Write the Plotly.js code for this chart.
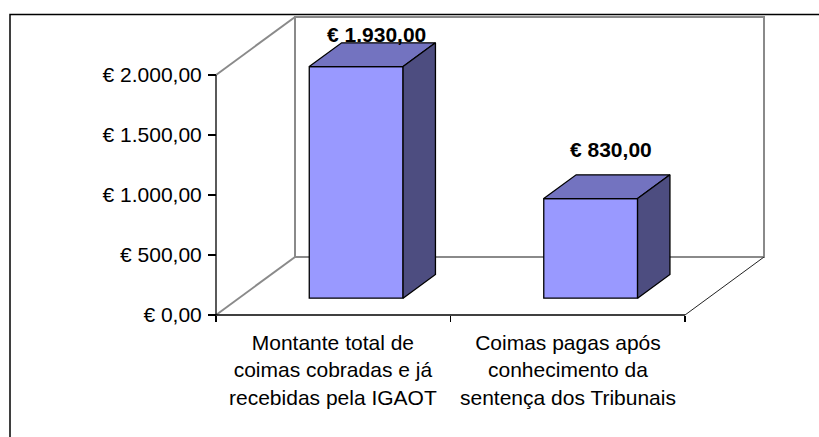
<!DOCTYPE html>
<html>
<head>
<meta charset="utf-8">
<script src="https://cdn.plot.ly/plotly-3.0.1.min.js"></script>
<style>html,body{margin:0;padding:0;background:#fff;}#chart{width:819px;height:437px;}</style>
</head>
<body>
<div id="chart"></div>
<script>
// ---- data ----
const categories = ['Montante total de<br>coimas cobradas e já<br>recebidas pela IGAOT',
                    'Coimas pagas após<br>conhecimento da<br>sentença dos Tribunais'];
const values = [1930, 830];
const valueLabels = ['€ 1.930,00', '€ 830,00'];
const tickVals = [0, 500, 1000, 1500, 2000];
const tickText = ['€ 0,00', '€ 500,00', '€ 1.000,00', '€ 1.500,00', '€ 2.000,00'];

// ---- 3D styling geometry (in axis units) ----
const PXX = 234.5, PXY = 0.12;          // pixels per unit
const DX = 79 / PXX, DY = 58 / PXY;      // depth of the floor
const GAP = 0.29, BD = 0.41, BW = 0.4;   // bar placement inside depth
const nCat = categories.length;
const wallTop = tickVals[tickVals.length - 1];
const FONT = 'Liberation Sans, Arial, sans-serif';
const GREY = '#8a8a8a';

const shapes = [];
function seg(x0, y0, x1, y1, c, w) {
  shapes.push({type: 'line', xref: 'x', yref: 'y', x0: x0, y0: y0, x1: x1, y1: y1,
    layer: 'below', line: {color: c, width: w}});
}
// back wall
shapes.push({type: 'rect', xref: 'x', yref: 'y', x0: DX, x1: nCat + DX, y0: DY, y1: wallTop + DY,
  layer: 'below', fillcolor: '#ffffff', line: {color: GREY, width: 2}});
// left wall edges
seg(0, wallTop, DX, wallTop + DY, GREY, 2);
seg(0, 0, DX, DY, GREY, 2);
// floor edges
seg(nCat, 0, nCat + DX, DY, '#222', 1);
seg(0, 0, nCat, 0, '#000', 1.3);
// value axis line
seg(0, 0, 0, wallTop, '#000', 1.3);

const traces = [];
function poly(xs, ys, fill) {
  traces.push({type: 'scatter', mode: 'lines', x: xs, y: ys, fill: 'toself', fillcolor: fill,
    line: {color: '#000', width: 1.3}, hoverinfo: 'skip', showlegend: false});
}
// bars (front faces)
const barX = values.map((v, i) => i + 0.5 + GAP * DX);
const barBase = GAP * DY;
traces.push({type: 'bar', x: barX, y: values, base: values.map(() => barBase), width: BW,
  marker: {color: '#9999FF', line: {color: '#000', width: 1.3}}, hoverinfo: 'skip', showlegend: false});
// top & side faces
const bdx = BD * DX, bdy = BD * DY;
values.forEach((v, i) => {
  const xl = barX[i] - BW / 2, xr = barX[i] + BW / 2, top = barBase + v;
  poly([xl, xl + bdx, xr + bdx, xr, xl], [top, top + bdy, top + bdy, top, top], '#7373C0');
  poly([xr, xr + bdx, xr + bdx, xr, xr], [barBase, barBase + bdy, top + bdy, top, barBase], '#4D4D80');
});

const annotations = [];
values.forEach((v, i) => {
  annotations.push({xref: 'x', yref: 'y', x: barX[i] + 0.085, y: Math.min(barBase + v + 405, 2340),
    text: '<b>' + valueLabels[i] + '</b>', showarrow: false,
    font: {family: FONT, size: 21, color: '#000'}, xanchor: 'center', yanchor: 'middle'});
  annotations.push({xref: 'x', yref: 'y', x: i + 0.5, y: 0, yanchor: 'top', yshift: -14,
    text: categories[i], showarrow: false, font: {family: FONT, size: 21, color: '#000'}});
});

const W = 556, H = 306;
shapes.push({type: 'path', xref: 'paper', yref: 'paper',
  path: 'M ' + ((10 - 212) / W) + ' -0.6 L ' + ((10 - 212) / W) + ' ' + ((318 - 14.5) / H) +
        ' L 1.2 ' + ((318 - 14.5) / H),
  line: {color: '#000', width: 1.5}});

const layout = {
  width: 819, height: 437,
  margin: {l: 212, r: 51, t: 12, b: 119, pad: 0},
  paper_bgcolor: '#fff', plot_bgcolor: 'rgba(0,0,0,0)',
  showlegend: false, hovermode: false, barmode: 'overlay',
  xaxis: {range: [-4 / PXX, 552 / PXX], anchor: 'free', position: 3 / H,
    tickvals: [0, 1, 2], ticktext: ['', '', ''], ticks: 'outside', ticklen: 6,
    tickcolor: '#000', tickwidth: 1.3, showgrid: false, zeroline: false, showline: false},
  yaxis: {range: [-3 / PXY, 303 / PXY], anchor: 'free', position: 4 / W,
    tickvals: tickVals, ticktext: tickText, ticks: 'outside', ticklen: 8,
    tickcolor: '#000', tickwidth: 1.3, showgrid: false, zeroline: false, showline: false,
    tickfont: {family: FONT, size: 21, color: '#000'}, ticklabelstandoff: 2},
  annotations: annotations,
  shapes: shapes
};
Plotly.newPlot('chart', traces, layout, {staticPlot: true, displayModeBar: false});
</script>
</body>
</html>
